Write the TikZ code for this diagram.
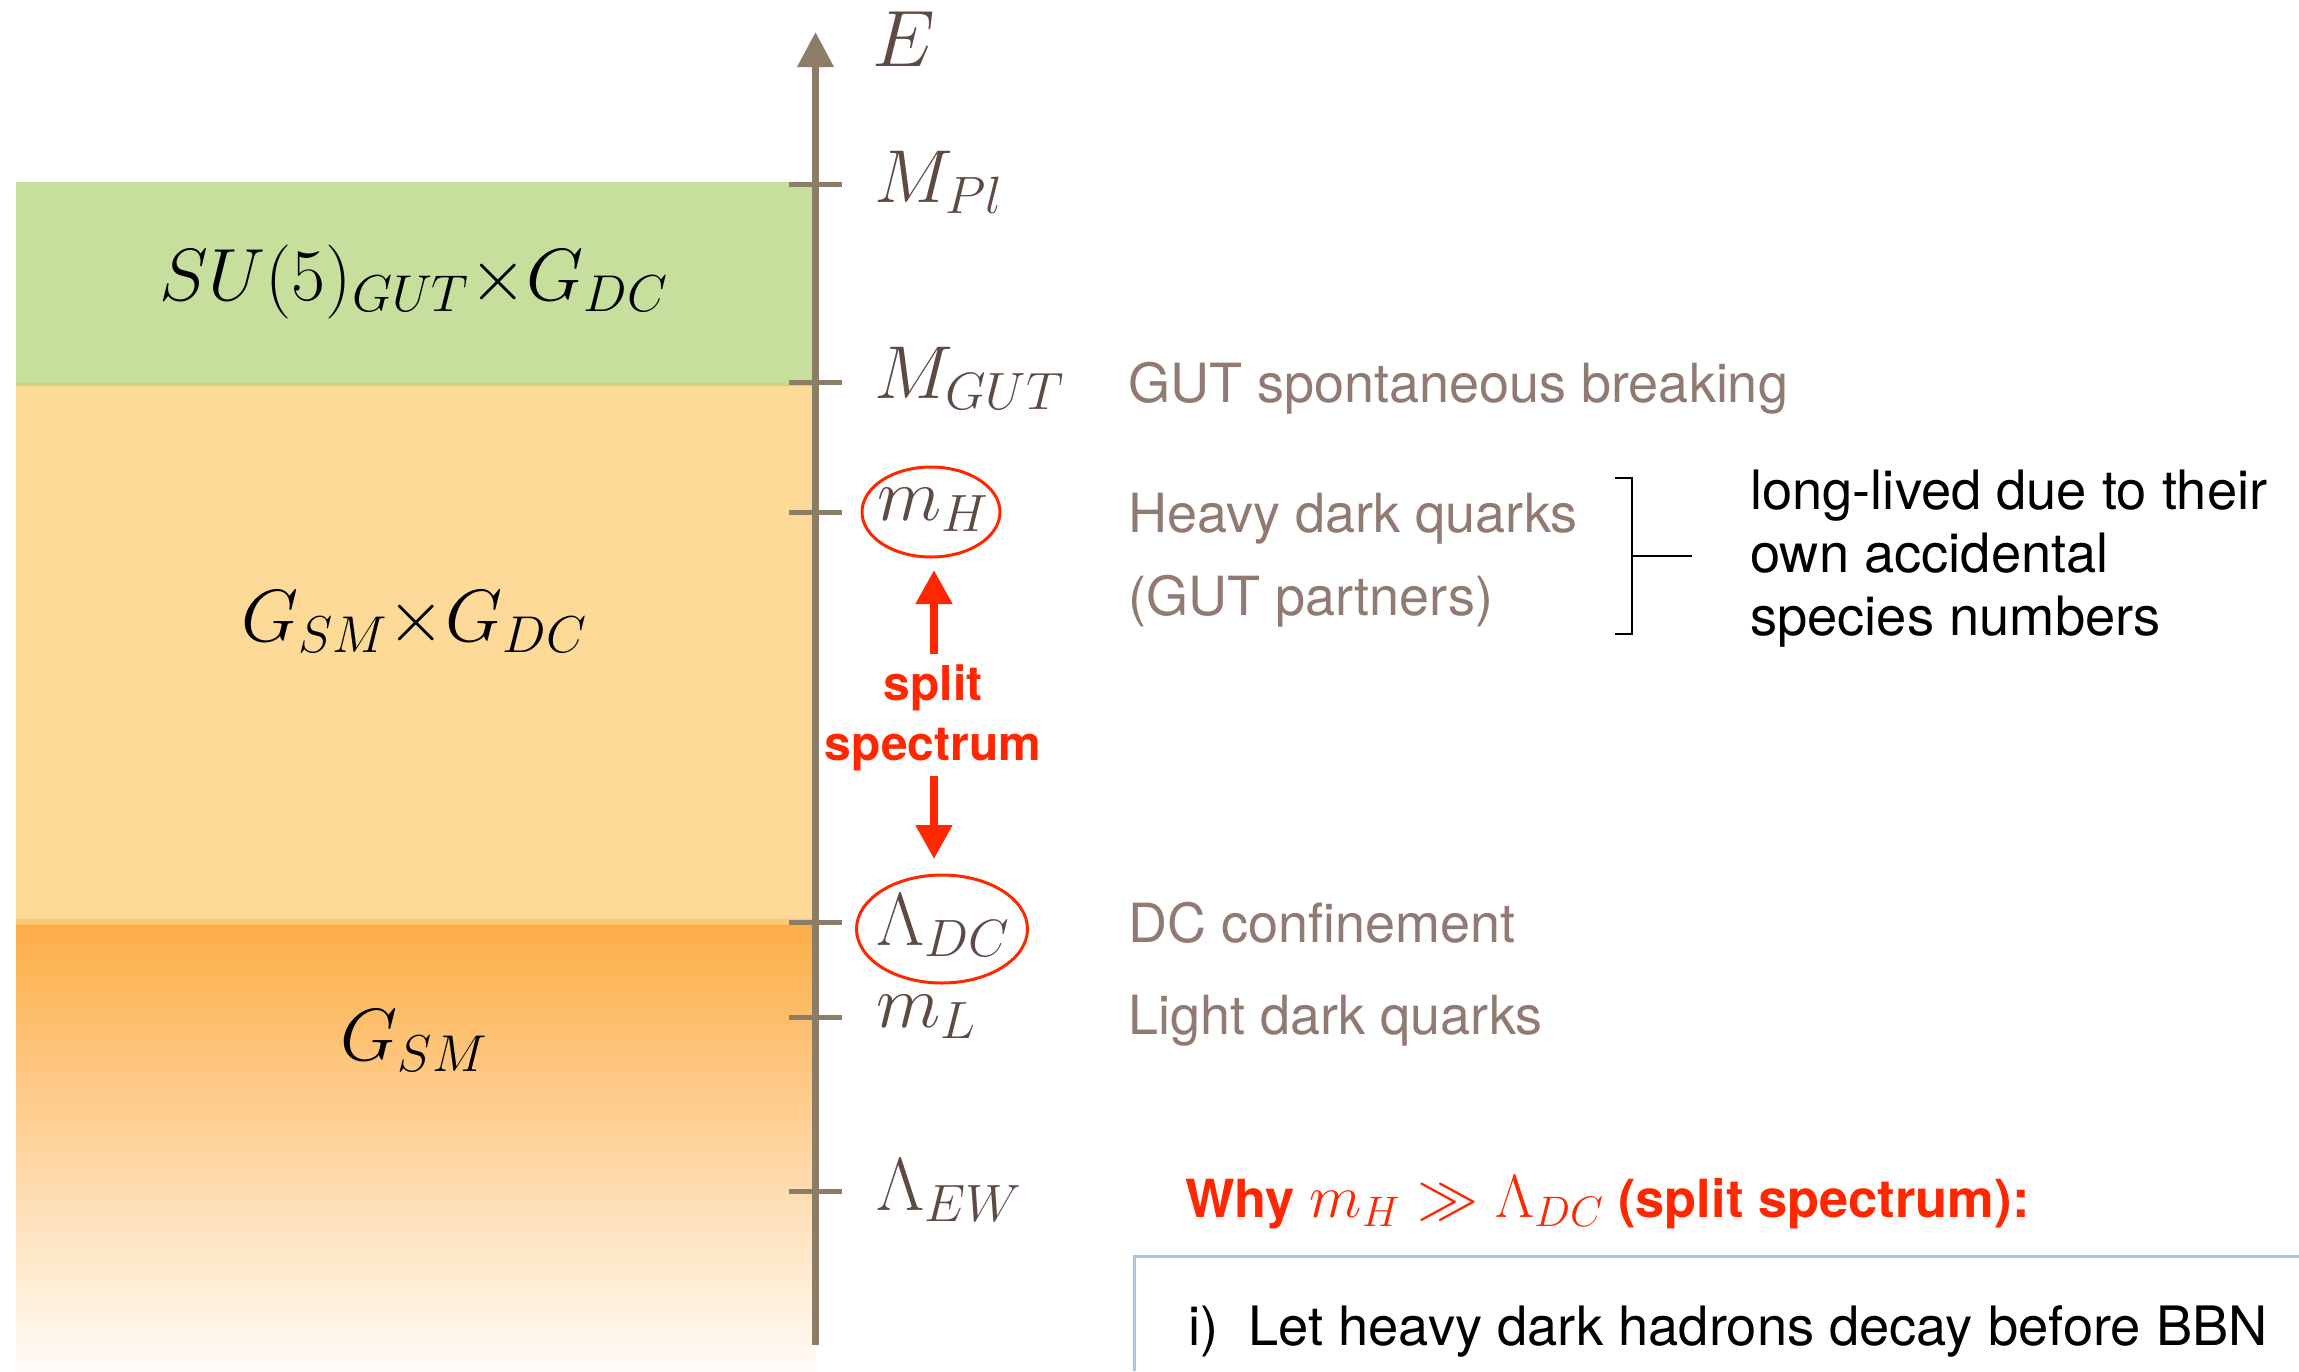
\RequirePackage{fix-cm}
\documentclass[tikz,border=0pt]{standalone}
\usepackage{fontspec}
\newfontfamily\hv{TeX Gyre Heros}
\usetikzlibrary{arrows.meta,shapes.geometric}
\definecolor{axisc}{HTML}{8B7D66}
\definecolor{lab}{HTML}{5E4A42}
\definecolor{gtxt}{HTML}{917A72}
\definecolor{redc}{HTML}{FF2600}
\definecolor{grn}{HTML}{C6DF9C}
\definecolor{grnline}{HTML}{C9D67C}
\definecolor{lorange}{HTML}{FDDA98}
\definecolor{strip}{HTML}{FDC66F}
\definecolor{dorange}{HTML}{FDAE47}
\definecolor{boxc}{HTML}{A9C6DD}
\begin{document}
\begin{tikzpicture}[x=1pt,y=-1pt,
  tickline/.style={axisc,line width=5pt},
  mlab/.style={text=lab,anchor=base west,inner sep=0pt,font=\fontsize{75}{90}\selectfont},
  grouplab/.style={text=black,anchor=base,inner sep=0pt,font=\fontsize{74}{88}\selectfont},
  glab/.style={text=gtxt,anchor=base west,inner sep=0pt,font=\hv\fontsize{54}{65}\selectfont},
  blab/.style={text=black,anchor=base west,inner sep=0pt,font=\hv\fontsize{54.3}{65}\selectfont},
  rlab/.style={text=redc,anchor=base,inner sep=0pt,font=\hv\bfseries\fontsize{48}{58}\selectfont},
  ring/.style={draw=redc,ellipse,line width=3pt,inner sep=0pt},
  redarrow/.style={redc,line width=8pt,-{Triangle[width=35pt,length=34pt]}}
]
\useasboundingbox (0,0) rectangle (2299,1371);
% regions
\fill[grn] (16,182) rectangle (816,385);
\fill[grnline] (16,383) rectangle (816,386);
\fill[lorange] (16,386) rectangle (816,919);
\fill[strip] (16,919) rectangle (816,925);
\shade[top color=dorange, middle color=dorange!62!white, bottom color=dorange!4!white] (16,925) rectangle (816,1371);
% group labels
\node[grouplab] (g1) at (414,300) {$SU(5)_{GUT}{\times}G_{DC}$};
\node[grouplab] (g2) at (414,641) {$G_{SM}{\times}G_{DC}$};
\node[grouplab] (g3) at (414,1060) {$G_{SM}$};
% axis
\coordinate (axb) at (815.5,1345);
\coordinate (axt) at (815.5,32);
\draw[axisc,line width=7pt,-{Triangle[width=35pt,length=35pt]}] (axb) -- (axt);
% ticks
\foreach \yy/\nm in {184.5/pl,382.5/gut,512/mh,922.5/ldc,1017/ml,1191/lew}{
  \coordinate (t\nm a) at (789,\yy);
  \coordinate (t\nm b) at (842,\yy);
  \draw[tickline] (t\nm a) -- (t\nm b);
}
% axis labels
\node[mlab,font=\fontsize{80}{94}\selectfont] (lE) at (872,66) {$E$};
\node[mlab] (lpl) at (874,202) {$M_{Pl}$};
\node[mlab] (lgut) at (874,398) {$M_{GUT}$};
\node[mlab] (lmh) at (877,520) {$m_H$};
\node[ring,minimum width=138pt,minimum height=90pt] (emh) at (931,512) {};
\node[mlab] (lldc) at (876,945) {$\Lambda_{DC}$};
\node[ring,minimum width=171pt,minimum height=108pt] (eldc) at (942,929) {};
\node[mlab] (lml) at (876,1027) {$m_L$};
\node[mlab] (llew) at (876,1210) {$\Lambda_{EW}$};
% split spectrum
\coordinate (upb) at (934,654);
\coordinate (upt) at (934,570);
\draw[redarrow] (upb) -- (upt);
\node[rlab] (sp1) at (933,700) {split};
\node[rlab] (sp2) at (933,760) {spectrum};
\coordinate (dnt) at (934,776);
\coordinate (dnb) at (934,859);
\draw[redarrow] (dnt) -- (dnb);
% right labels
\node[glab] (r1) at (1128,402) {GUT spontaneous breaking};
\node[glab] (r2) at (1128,532) {Heavy dark quarks};
\node[glab] (r3) at (1128,615) {(GUT partners)};
\node[glab] (r4) at (1128,942) {DC confinement};
\node[glab] (r5) at (1128,1034) {Light dark quarks};
% bracket
\coordinate (bra) at (1615,478);
\coordinate (brb) at (1632,478);
\coordinate (brc) at (1632,634);
\coordinate (brd) at (1615,634);
\coordinate (brm) at (1632,556);
\coordinate (bre) at (1692,556);
\draw[black,line width=2.5pt] (bra) -- (brb) -- (brc) -- (brd);
\draw[black,line width=2.5pt] (brm) -- (bre);
\node[blab] (n1) at (1750,509) {long-lived due to their};
\node[blab] (n2) at (1750,572) {own accidental};
\node[blab] (n3) at (1750,635) {species numbers};
% why
\node[text=redc,anchor=base west,inner sep=0pt,font=\hv\bfseries\fontsize{52.5}{62}\selectfont] (why) at (1185,1217)
  {Why {\fontsize{61}{70}\selectfont$m_H \gg \Lambda_{DC}$} (split spectrum):};
\coordinate (bx1) at (1134,1371);
\coordinate (bx2) at (1134,1256);
\coordinate (bx3) at (2299,1256);
\draw[boxc,line width=3pt] (bx1) -- (bx2) -- (bx3);
\node[blab] (item) at (1188,1345) {i)\ \ Let heavy dark hadrons decay before BBN};
\end{tikzpicture}
\end{document}
